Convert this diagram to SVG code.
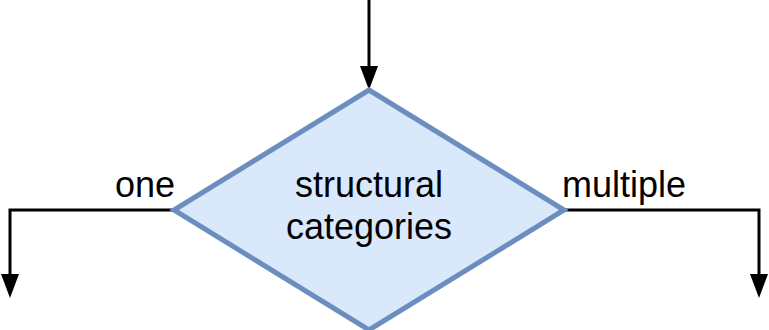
<svg xmlns="http://www.w3.org/2000/svg" width="769" height="330" viewBox="0 0 769 330">
<style>
.lbl{font-family:"Liberation Sans",Arial,sans-serif;font-size:36px;fill:#000}
.edge{fill:none;stroke:#000;stroke-width:3}
.head{fill:#000}
</style>
<rect width="769" height="330" fill="#fff"/>
<g id="connectors">
<path class="edge" d="M369,0 L369,66"/>
<path class="head" d="M360,66 L378,66 L369,90 Z"/>
<path class="edge" d="M174,210 L10,210 L10,276"/>
<path class="head" d="M1,274 L19,274 L10,298 Z"/>
<path class="edge" d="M564,210 L759,210 L759,276"/>
<path class="head" d="M750,274 L768,274 L759,298 Z"/>
</g>
<g id="decision">
<polygon points="369,90 564,210 369,330 174,210" fill="#dae8fc" stroke="#6c8ebf" stroke-width="5"/>
<text class="lbl" x="369" y="197" text-anchor="middle">structural</text>
<text class="lbl" x="369" y="239" text-anchor="middle">categories</text>
</g>
<g id="labels">
<text class="lbl" x="175" y="197" text-anchor="end">one</text>
<text class="lbl" x="562" y="197">multiple</text>
</g>
</svg>
